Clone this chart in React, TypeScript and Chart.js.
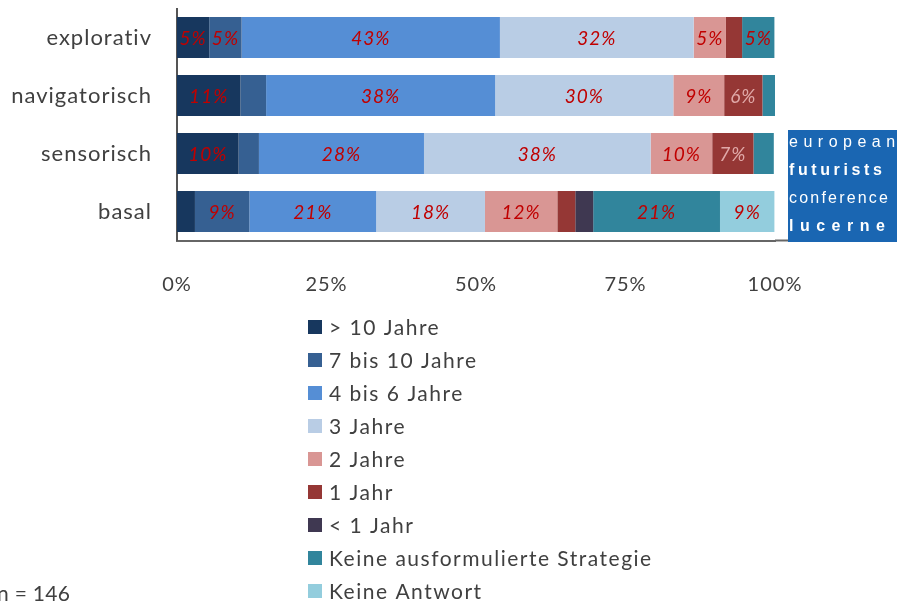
import React, { useEffect, useRef } from "react";
import { Chart, registerables } from "chart.js";

Chart.register(...registerables);

const categories = ["explorativ", "navigatorisch", "sensorisch", "basal"];

const seriesNames = [
  "> 10 Jahre",
  "7 bis 10 Jahre",
  "4 bis 6 Jahre",
  "3 Jahre",
  "2 Jahre",
  "1 Jahr",
  "< 1 Jahr",
  "Keine ausformulierte Strategie",
  "Keine Antwort",
];

const seriesColors = [
  "#17375e",
  "#366092",
  "#558ed5",
  "#b9cde5",
  "#d99694",
  "#953735",
  "#3f3851",
  "#31859c",
  "#93cddd",
];

// percentages per category (explorativ, navigatorisch, sensorisch, basal)
const over10 = [5.4, 10.6, 10.3, 3.0];
const from7to10 = [5.4, 4.3, 3.4, 9.1];
const from4to6 = [43.2, 38.3, 27.6, 21.2];
const years3 = [32.4, 29.8, 37.9, 18.2];
const years2 = [5.4, 8.5, 10.3, 12.1];
const year1 = [2.7, 6.4, 6.9, 3.0];
const under1 = [0, 0, 0, 3.0];
const noStrategy = [5.4, 2.1, 3.4, 21.2];
const noAnswer = [0, 0, 0, 9.1];

const seriesValues = [over10, from7to10, from4to6, years3, years2, year1, under1, noStrategy, noAnswer];

const xTicks = ["0%", "25%", "50%", "75%", "100%"];
const sampleNote = "n = 146";
const logoLines = ["european", "futurists", "conference", "lucerne"];

const FONT = "Lato, 'Open Sans', sans-serif";
const TEXT = "#404040";

const extrasPlugin = {
  id: "extras",
  beforeDraw(chart: any) {
    (chart.ctx as any).letterSpacing = "1px";
  },
  afterDatasetsDraw(chart: any) {
    const ctx = chart.ctx;
    ctx.save();
    ctx.font = `italic 19px ${FONT}`;
    (ctx as any).letterSpacing = "1px";
    ctx.textAlign = "center";
    ctx.textBaseline = "middle";
    chart.data.datasets.forEach((ds: any, i: number) => {
      const meta = chart.getDatasetMeta(i);
      meta.data.forEach((el: any, j: number) => {
        const v = ds.data[j];
        if (v >= 5) {
          const { x, y, base } = el.getProps(["x", "y", "base"], true);
          ctx.fillStyle = i === 5 ? "#e0a9a8" : "#c00000";
          ctx.fillText(Math.round(v) + "%", (x + base) / 2, y + 1);
        }
      });
    });
    ctx.restore();
  },
  afterDraw(chart: any) {
    const ctx = chart.ctx;
    const area = chart.chartArea;
    ctx.save();
    // extension of the bottom frame line
    ctx.strokeStyle = "#666666";
    ctx.lineWidth = 2;
    ctx.beginPath();
    ctx.moveTo(area.right, area.bottom);
    ctx.lineTo(790, area.bottom);
    ctx.stroke();

    // legend
    ctx.font = `21px ${FONT}`;
    (ctx as any).letterSpacing = "1.5px";
    ctx.textAlign = "left";
    ctx.textBaseline = "middle";
    chart.data.datasets.forEach((ds: any, i: number) => {
      const cy = 327 + i * 33;
      ctx.fillStyle = ds.backgroundColor;
      ctx.fillRect(308, cy - 7, 14, 14);
      ctx.fillStyle = TEXT;
      ctx.fillText(ds.label, 329, cy + 1);
    });

    // sample size
    (ctx as any).letterSpacing = "0.3px";
    ctx.fillText(sampleNote, -3, 594);

    // logo
    ctx.fillStyle = "#1a66b2";
    ctx.fillRect(788, 130, 120, 112);
    ctx.fillStyle = "#ffffff";
    const ys = [143, 171, 199, 227];
    const spacing = ["5.5px", "3.6px", "2.2px", "6.5px"];
    logoLines.forEach((t, k) => {
      const bold = k % 2 === 1;
      ctx.font = `${bold ? "bold " : ""}16px 'Liberation Sans', Arial, sans-serif`;
      (ctx as any).letterSpacing = spacing[k];
      ctx.fillText(t, 789, ys[k]);
    });
    ctx.restore();
  },
};

export default function App() {
  const ref = useRef<HTMLCanvasElement | null>(null);

  useEffect(() => {
    if (!ref.current) return;
    const chart = new Chart(ref.current, {
      type: "bar",
      data: {
        labels: categories,
        datasets: seriesNames.map((name, i) => ({
          label: name,
          data: seriesValues[i],
          backgroundColor: seriesColors[i],
          borderWidth: 0,
          categoryPercentage: 1,
          barPercentage: 0.71,
        })),
      },
      options: {
        indexAxis: "y",
        animation: false,
        responsive: true,
        maintainAspectRatio: false,
        layout: { padding: { top: 8.5, right: 122, bottom: 304.5, left: 0 } },
        plugins: {
          legend: { display: false },
          tooltip: { enabled: false },
        },
        scales: {
          x: {
            stacked: true,
            min: 0,
            max: 100,
            grid: { display: false, drawTicks: false },
            border: { display: true, color: "#666666", width: 2 },
            ticks: {
              stepSize: 25,
              padding: 32,
              color: TEXT,
              font: { family: FONT, size: 20 },
              callback: (_v: any, idx: number) => xTicks[idx],
            },
            afterFit: (s: any) => {
              s.height = 60;
              s.paddingLeft = 0;
              s.paddingRight = 0;
            },
          },
          y: {
            stacked: true,
            grid: { display: false, drawTicks: false },
            border: { display: true, color: "#555555", width: 2 },
            ticks: {
              padding: 25,
              color: TEXT,
              font: { family: FONT, size: 22 },
            },
            afterFit: (s: any) => {
              s.width = 177;
              s.paddingTop = 0;
              s.paddingBottom = 0;
            },
          },
        },
      },
      plugins: [extrasPlugin],
    });
    return () => chart.destroy();
  }, []);

  return (
    <div style={{ position: "absolute", left: 0, top: 0, width: 897, height: 605 }}>
      <canvas ref={ref} />
    </div>
  );
}
